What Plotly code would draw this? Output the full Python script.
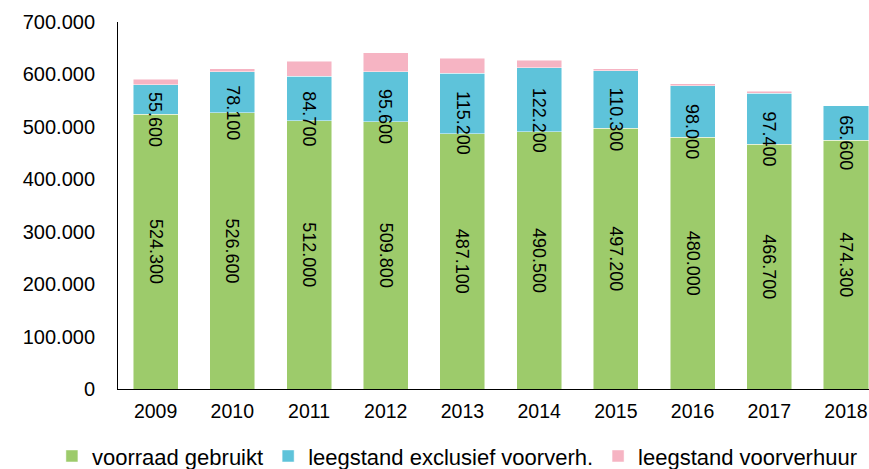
import plotly.graph_objects as go

years = ["2009", "2010", "2011", "2012", "2013", "2014", "2015", "2016", "2017", "2018"]
gebruikt = [524300, 526600, 512000, 509800, 487100, 490500, 497200, 480000, 466700, 474300]
leegstand_excl = [55600, 78100, 84700, 95600, 115200, 122200, 110300, 98000, 97400, 65600]
leegstand_voorverhuur = [11000, 6000, 28600, 35600, 29000, 14600, 3200, 3800, 3800, 0]

y_ticks = [0, 100000, 200000, 300000, 400000, 500000, 600000, 700000]

def fmt(v):
    return f"{v:,.0f}".replace(",", ".")

GREEN = "#9DCB6B"
BLUE = "#5EC3DA"
PINK = "#F6B4C3"

label_font = dict(family="Liberation Sans", size=18, color="black")
line = dict(color="rgba(255,255,255,0.6)", width=0.8)

fig = go.Figure()
fig.add_trace(go.Bar(
    x=years, y=gebruikt, name="voorraad gebruikt",
    marker=dict(color=GREEN, line=line),
    text=[fmt(v) for v in gebruikt], textposition="inside",
    insidetextanchor="middle", textangle=90, constraintext="none",
    textfont=label_font, width=0.587,
))
fig.add_trace(go.Bar(
    x=years, y=leegstand_excl, name="leegstand exclusief voorverh.",
    marker=dict(color=BLUE, line=line), width=0.587,
))
fig.add_trace(go.Bar(
    x=years, y=leegstand_voorverhuur, name="leegstand voorverhuur",
    marker=dict(color=PINK, line=line), width=0.587,
))

# labels for the blue segments (Excel places them slightly below segment centre)
for i, (g, b) in enumerate(zip(gebruikt, leegstand_excl)):
    fig.add_annotation(
        x=i, y=g + b / 2, text=fmt(b), showarrow=False, textangle=90,
        font=label_font, yshift=-20, xref="x", yref="y",
    )

fig.update_layout(
    width=869, height=469,
    barmode="stack",
    separators=",.",
    plot_bgcolor="white", paper_bgcolor="white",
    margin=dict(l=118, r=0, t=22, b=80, autoexpand=False),
    font=dict(family="Liberation Sans", color="black"),
    legend=dict(
        orientation="h", xref="paper", yref="paper",
        x=-0.088, xanchor="left", y=-0.183, yanchor="middle",
        font=dict(family="Liberation Sans", size=22, color="black"),
        traceorder="normal", itemwidth=30,
    ),
    showlegend=True,
)
fig.update_xaxes(
    type="category", range=[-0.49, 9.30], automargin=False,
    showline=True, linecolor="black", linewidth=1,
    ticks="", ticklabelstandoff=5,
    tickfont=dict(family="Liberation Sans", size=19.5, color="black"),
    showgrid=False,
)
fig.update_yaxes(
    range=[0, 700000], tickvals=y_ticks, tickformat=",d", automargin=False,
    showline=True, linecolor="black", linewidth=1, ticks="",
    showgrid=False, zeroline=False, ticklabelstandoff=18,
    tickfont=dict(family="Liberation Sans", size=20, color="black"),
)

fig.write_html(
    "out.html",
    config={"displayModeBar": False},
    post_script="document.body.style.margin='0';document.body.style.overflow='hidden';",
)
